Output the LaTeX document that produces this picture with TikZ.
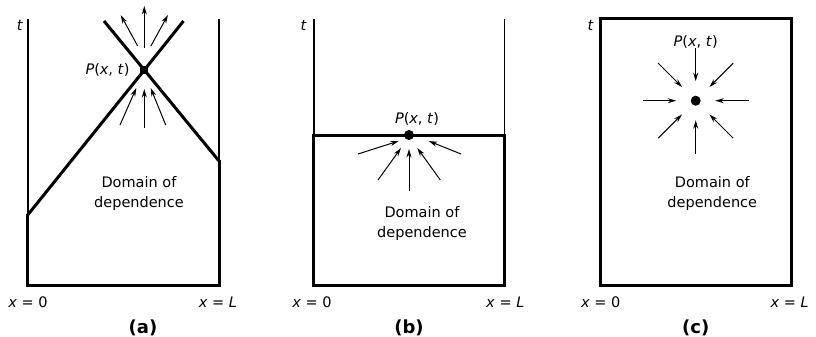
\documentclass[tikz,border=0pt]{standalone}
\usepackage{fontspec}
\setmainfont{DejaVu Sans}
\usetikzlibrary{arrows.meta,calc}
\begin{document}
\begin{tikzpicture}[x=1pt,y=-1pt,
  thickln/.style={line width=3pt,line join=miter,line cap=rect},
  thinln/.style={line width=1.6pt},
  arr/.style={line width=1pt,-{Stealth[length=8.5pt,width=5pt]}},
  lbl/.style={font=\fontsize{14.5}{20}\selectfont,inner sep=0pt,align=center},
  captext/.style={font=\fontsize{18}{20}\selectfont\bfseries,inner sep=0pt},
  dotc/.style={circle,fill,inner sep=0pt,minimum size=10pt},
  dots/.style={rectangle,fill,inner sep=0pt,minimum size=8pt}]
\useasboundingbox (0,0) rectangle (816,337);
% ---------- (a) ----------
\coordinate (a0t) at (27.7,19);
\coordinate (a0m) at (27.7,215);
\coordinate (a0b) at (27.7,285);
\coordinate (aLt) at (219,19);
\coordinate (aLm) at (219,161);
\coordinate (aLb) at (219,285);
\coordinate (aUL) at (104,21);
\coordinate (aUR) at (183.5,21);
\node[dots] (aP) at (144.3,70) {};
\draw[thinln] (a0m) -- (a0t);
\draw[thinln] (aLm) -- (aLt);
\draw[thickln] (a0m) -- (a0b) -- (aLb) -- (aLm);
\draw[thickln,line cap=butt] (a0m) -- (aP.center) -- (aUR);
\draw[thickln,line cap=butt] (aUL) -- (aP.center) -- (aLm);
\coordinate (aa1s) at (137.7,46); \coordinate (aa1e) at (120.7,15);
\coordinate (aa2s) at (144.3,48); \coordinate (aa2e) at (144.3,6);
\coordinate (aa3s) at (150.9,46); \coordinate (aa3e) at (167.9,15);
\coordinate (ab1s) at (120,125); \coordinate (ab1e) at (136.3,88);
\coordinate (ab2s) at (144.3,127.7); \coordinate (ab2e) at (144.3,89);
\coordinate (ab3s) at (165.7,125); \coordinate (ab3e) at (150.7,88);
\foreach \s/\e in {aa1s/aa1e,aa2s/aa2e,aa3s/aa3e,ab1s/ab1e,ab2s/ab2e,ab3s/ab3e}
  \draw[arr] (\s) -- (\e);
\node[lbl] (aPl) at (107.5,70) {\textit{P}(\textit{x}, \textit{t})};
\node[lbl] (at) at (20,25) {\textit{t}};
\node[lbl] (ax0) at (28,302) {\textit{x} = 0};
\node[lbl] (axL) at (218,302) {\textit{x} = \textit{L}};
\node[lbl] (adom) at (139,193) {Domain of\\dependence};
\node[captext] (acap) at (143,328) {(a)};
% ---------- (b) ----------
\coordinate (b0t) at (313.7,19);
\coordinate (b0m) at (313.7,135);
\coordinate (b0b) at (313.7,285);
\coordinate (bLt) at (504.3,19);
\coordinate (bLm) at (504.3,135);
\coordinate (bLb) at (504.3,285);
\draw[thinln] (b0m) -- (b0t);
\draw[thinln] (bLm) -- (bLt);
\draw[thickln] (b0m) -- (b0b) -- (bLb) -- (bLm) -- cycle;
\node[dotc] (bP) at (409,135) {};
\coordinate (bb1s) at (358,154);   \coordinate (bb1e) at (398.7,141);
\coordinate (bb2s) at (378,180);   \coordinate (bb2e) at (401,148);
\coordinate (bb3s) at (409,190.7); \coordinate (bb3e) at (409,149);
\coordinate (bb4s) at (440.3,180); \coordinate (bb4e) at (417.3,148);
\coordinate (bb5s) at (461,154);   \coordinate (bb5e) at (428.7,141);
\foreach \s/\e in {bb1s/bb1e,bb2s/bb2e,bb3s/bb3e,bb4s/bb4e,bb5s/bb5e}
  \draw[arr] (\s) -- (\e);
\node[lbl] (bPl) at (417,119) {\textit{P}(\textit{x}, \textit{t})};
\node[lbl] (bt) at (303.7,25) {\textit{t}};
\node[lbl] (bx0) at (312,302) {\textit{x} = 0};
\node[lbl] (bxL) at (505.3,302) {\textit{x} = \textit{L}};
\node[lbl] (bdom) at (422,223) {Domain of\\dependence};
\node[captext] (bcap) at (409,328) {(b)};
% ---------- (c) ----------
\coordinate (c0t) at (600,19);
\coordinate (c0b) at (600,285);
\coordinate (cLt) at (791.3,19);
\coordinate (cLb) at (791.3,285);
\draw[thickln] (c0t) -- (c0b) -- (cLb) -- (cLt) -- cycle;
\node[dotc] (cP) at (695.7,100.7) {};
\foreach \a in {0,45,...,315}
  \draw[arr] ($(cP.center)+(\a:53)$) -- ($(cP.center)+(\a:19.5)$);
\node[lbl] (cPl) at (695.7,41.7) {\textit{P}(\textit{x}, \textit{t})};
\node[lbl] (ct) at (590.7,25) {\textit{t}};
\node[lbl] (cx0) at (600.7,302) {\textit{x} = 0};
\node[lbl] (cxL) at (789.7,302) {\textit{x} = \textit{L}};
\node[lbl] (cdom) at (712.3,193) {Domain of\\dependence};
\node[captext] (ccap) at (695.7,328) {(c)};
\end{tikzpicture}
\end{document}
